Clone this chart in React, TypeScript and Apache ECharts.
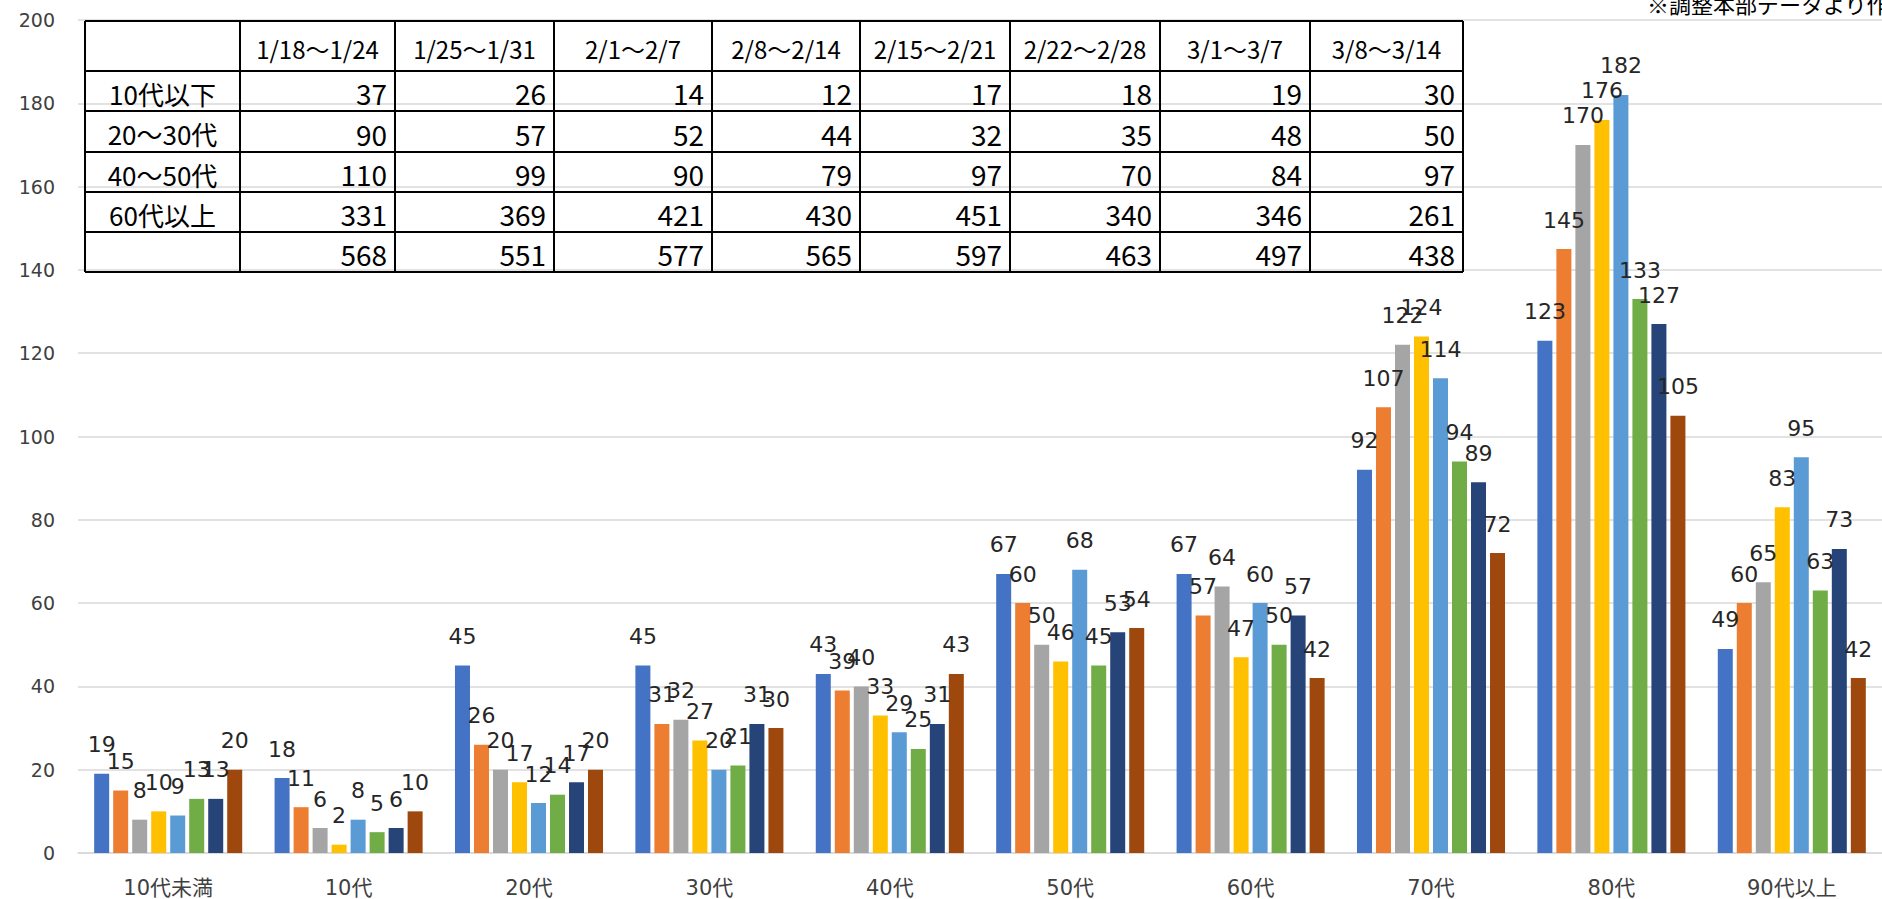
import React, { useEffect, useRef } from "react";
import * as echarts from "echarts";

const categories = ["10代未満", "10代", "20代", "30代", "40代", "50代", "60代", "70代", "80代", "90代以上"];
const weeks = ["1/18～1/24", "1/25～1/31", "2/1～2/7", "2/8～2/14", "2/15～2/21", "2/22～2/28", "3/1～3/7", "3/8～3/14"];

const week1 = [19, 18, 45, 45, 43, 67, 67, 92, 123, 49];
const week2 = [15, 11, 26, 31, 39, 60, 57, 107, 145, 60];
const week3 = [8, 6, 20, 32, 40, 50, 64, 122, 170, 65];
const week4 = [10, 2, 17, 27, 33, 46, 47, 124, 176, 83];
const week5 = [9, 8, 12, 20, 29, 68, 60, 114, 182, 95];
const week6 = [13, 5, 14, 21, 25, 45, 50, 94, 133, 63];
const week7 = [13, 6, 17, 31, 31, 53, 57, 89, 127, 73];
const week8 = [20, 10, 20, 30, 43, 54, 42, 72, 105, 42];
const weekSeries = [week1, week2, week3, week4, week5, week6, week7, week8];

const colors = ["#4472C4", "#ED7D31", "#A5A5A5", "#FFC000", "#5B9BD5", "#70AD47", "#264478", "#9E480E"];

const yTicks = [0, 20, 40, 60, 80, 100, 120, 140, 160, 180, 200];

// summary table
const tableRowLabels = ["10代以下", "20～30代", "40～50代", "60代以上", ""];
const tableUnder10 = [37, 26, 14, 12, 17, 18, 19, 30];
const table20to30 = [90, 57, 52, 44, 32, 35, 48, 50];
const table40to50 = [110, 99, 90, 79, 97, 70, 84, 97];
const table60plus = [331, 369, 421, 430, 451, 340, 346, 261];
const tableTotal = [568, 551, 577, 565, 597, 463, 497, 438];
const tableRows = [tableUnder10, table20to30, table40to50, table60plus, tableTotal];

const sourceNote = "※調整本部データより作成";

// table layout (pixels)
const colX = [85, 240, 395, 554, 712, 860, 1010, 1160, 1310, 1463];
const rowY = [21, 71, 111, 152, 192, 232, 272];

function buildTable() {
  const els: any[] = [];
  const top = rowY[0];
  const bottom = rowY[rowY.length - 1];
  const left = colX[0];
  const right = colX[colX.length - 1];
  colX.forEach((x) => {
    els.push({ type: "line", shape: { x1: x, y1: top, x2: x, y2: bottom }, style: { stroke: "#000", lineWidth: 2 }, silent: true, z: 100 });
  });
  rowY.forEach((y) => {
    els.push({ type: "line", shape: { x1: left, y1: y, x2: right, y2: y }, style: { stroke: "#000", lineWidth: 2 }, silent: true, z: 100 });
  });
  const cjk = "'Noto Sans CJK JP', sans-serif";
  // header
  weeks.forEach((w, i) => {
    const cx = (colX[i + 1] + colX[i + 2]) / 2;
    const cy = (rowY[0] + rowY[1]) / 2 + 2;
    els.push({
      type: "text", x: cx, y: cy, silent: true, z: 101,
      style: { text: w, fill: "#000", fontSize: 24, fontFamily: cjk, align: "center", verticalAlign: "middle", textAlign: "center", textVerticalAlign: "middle" },
    });
  });
  tableRows.forEach((row, r) => {
    const cy = (rowY[r + 1] + rowY[r + 2]) / 2 + 2;
    const lbl = tableRowLabels[r];
    if (lbl) {
      els.push({
        type: "text", x: (colX[0] + colX[1]) / 2, y: cy, silent: true, z: 101,
        style: { text: lbl, fill: "#000", fontSize: 26, fontFamily: cjk, align: "center", verticalAlign: "middle", textAlign: "center", textVerticalAlign: "middle" },
      });
    }
    row.forEach((v, c) => {
      els.push({
        type: "text", x: colX[c + 2] - 8, y: cy, silent: true, z: 101,
        style: { text: String(v), fill: "#000", fontSize: 28, fontFamily: cjk, align: "right", verticalAlign: "middle", textAlign: "right", textVerticalAlign: "middle" },
      });
    });
  });
  els.push({
    type: "text", x: 1647, y: 14, silent: true, z: 101,
    style: { text: sourceNote, fill: "#000", fontSize: 22, fontFamily: cjk, align: "left", verticalAlign: "bottom", textAlign: "left", textVerticalAlign: "bottom" },
  });
  return els;
}

export default function App() {
  const ref = useRef<HTMLDivElement>(null);
  useEffect(() => {
    if (!ref.current) return;
    const chart = echarts.init(ref.current, null, { renderer: "svg" });
    const font = "'DejaVu Sans', 'Noto Sans CJK JP', sans-serif";
    chart.setOption({
      animation: false,
      backgroundColor: "#ffffff",
      grid: { left: 78, right: -8, top: 20, bottom: 46, containLabel: false },
      xAxis: {
        type: "category",
        data: categories,
        axisLine: { show: true, lineStyle: { color: "#D9D9D9", width: 1.5 } },
        axisTick: { show: false },
        axisLabel: { color: "#404040", fontSize: 21, fontFamily: font, margin: 24 },
      },
      yAxis: {
        type: "value",
        min: yTicks[0],
        max: yTicks[yTicks.length - 1],
        interval: 20,
        axisLine: { show: false },
        axisTick: { show: false },
        axisLabel: { color: "#404040", fontSize: 19, fontFamily: font, margin: 23 },
        splitLine: { lineStyle: { color: "#D9D9D9", width: 1.5 } },
      },
      series: weekSeries.map((d, i) => ({
        name: weeks[i],
        type: "bar",
        data: d,
        barWidth: 15,
        barGap: "26.7%",
        itemStyle: { color: colors[i] },
        label: {
          show: true,
          position: "top",
          distance: 18,
          color: "#262626",
          fontSize: 22,
          fontFamily: font,
        },
      })),
      graphic: buildTable(),
    });
    return () => chart.dispose();
  }, []);
  return <div ref={ref} style={{ position: "fixed", left: 0, top: 0, width: 1882, height: 899, background: "#fff" }} />;
}
